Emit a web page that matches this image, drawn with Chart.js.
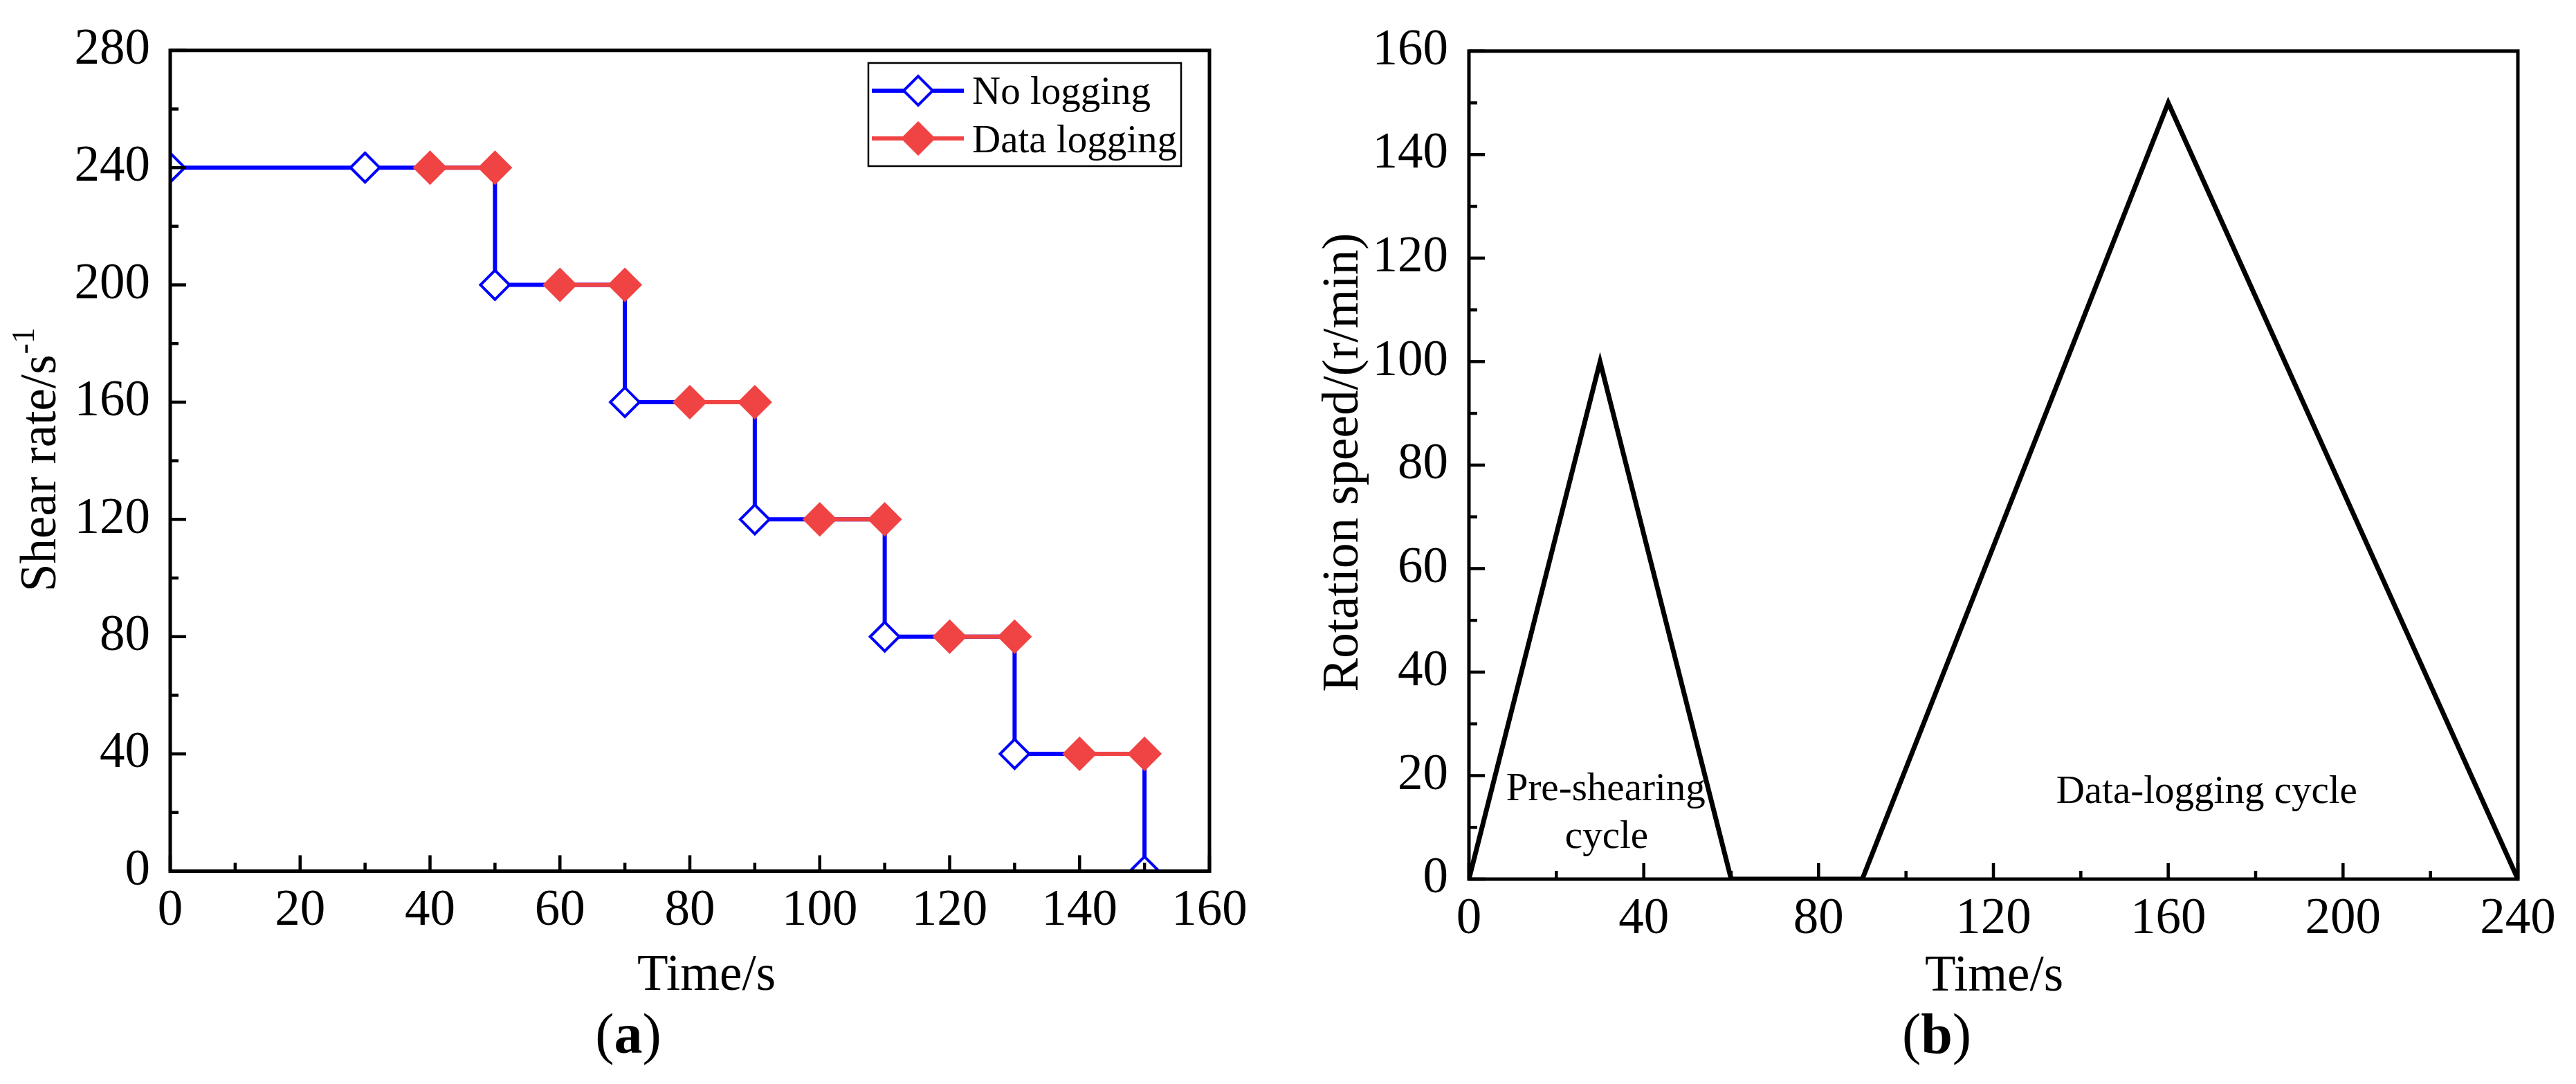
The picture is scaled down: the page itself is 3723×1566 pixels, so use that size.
<!DOCTYPE html>
<html><head><meta charset="utf-8">
<script src="https://cdn.jsdelivr.net/npm/chart.js@4.4.1/dist/chart.umd.min.js"></script>
<style>
html,body{margin:0;padding:0;background:#fff;overflow:hidden;width:3723px;height:1566px;}
#wa{position:absolute;left:0;top:0;width:1850px;height:1566px;}
#wb{position:absolute;left:1850px;top:0;width:1873px;height:1566px;}
</style></head><body>
<div id="wa"><canvas id="ca"></canvas></div>
<div id="wb"><canvas id="cb"></canvas></div>
<script>
// ---------- data (panel a) ----------
const timeNoLogging   = [0, 30, 50, 70, 90, 110, 130, 150];
const rateNoLogging   = [240, 240, 200, 160, 120, 80, 40, 0];
const timeDataLogging = [40, 50, 60, 70, 80, 90, 100, 110, 120, 130, 140, 150];
const rateDataLogging = [240, 240, 200, 200, 160, 160, 120, 120, 80, 80, 40, 40];
const xTicksA = [0, 20, 40, 60, 80, 100, 120, 140, 160];
const yTicksA = [0, 40, 80, 120, 160, 200, 240, 280];
// ---------- data (panel b) ----------
const timeCycle  = [0, 30, 60, 90, 160, 240];
const speedCycle = [0, 100, 0, 0, 150, 0];
const xTicksB = [0, 40, 80, 120, 160, 200, 240];
const yTicksB = [0, 20, 40, 60, 80, 100, 120, 140, 160];
const annText = ['Pre-shearing', 'cycle', 'Data-logging cycle'];
const annX = [31.3, 31.5, 168.8];
const annY = [15.2, 6.0, 14.7];

const BLUE = '#0000FF';
const RED = '#F04343';
const FF = "'Liberation Serif', 'Times New Roman', serif";
Chart.defaults.font.family = FF;
Chart.defaults.color = '#000';

function pts(xs, ys) { return xs.map((x, i) => ({x: x, y: ys[i]})); }

function drawInwardTicks(chart, xTicks, yTicks) {
  const {ctx, chartArea: ca, scales: {x, y}} = chart;
  ctx.save();
  ctx.strokeStyle = '#000';
  ctx.lineWidth = 4.5;
  ctx.lineCap = 'butt';
  const xs = xTicks[1] - xTicks[0], ys = yTicks[1] - yTicks[0];
  for (let i = 0; i < xTicks.length; i++) {
    const vals = [xTicks[i]];
    if (i < xTicks.length - 1) vals.push(xTicks[i] + xs / 2);
    vals.forEach((v, k) => {
      const px = x.getPixelForValue(v);
      const len = k === 0 ? 23 : 12;
      ctx.beginPath(); ctx.moveTo(px, ca.bottom); ctx.lineTo(px, ca.bottom - len); ctx.stroke();
    });
  }
  for (let i = 0; i < yTicks.length; i++) {
    const vals = [yTicks[i]];
    if (i < yTicks.length - 1) vals.push(yTicks[i] + ys / 2);
    vals.forEach((v, k) => {
      const py = y.getPixelForValue(v);
      const len = k === 0 ? 23 : 12;
      ctx.beginPath(); ctx.moveTo(ca.left, py); ctx.lineTo(ca.left + len, py); ctx.stroke();
    });
  }
  ctx.lineWidth = 5;
  ctx.strokeRect(ca.left, ca.top, ca.right - ca.left, ca.bottom - ca.top);
  ctx.restore();
}

function drawPanelLabel(ctx, letter, cx, baseline) {
  ctx.save();
  ctx.fillStyle = '#000';
  ctx.textBaseline = 'alphabetic';
  ctx.textAlign = 'left';
  const reg = '82px ' + FF, bold = 'bold 82px ' + FF;
  ctx.font = reg; const w1 = ctx.measureText('(').width, w3 = ctx.measureText(')').width;
  ctx.font = bold; const w2 = ctx.measureText(letter).width;
  let x0 = cx - (w1 + w2 + w3) / 2;
  ctx.font = reg; ctx.fillText('(', x0, baseline);
  ctx.font = bold; ctx.fillText(letter, x0 + w1, baseline);
  ctx.font = reg; ctx.fillText(')', x0 + w1 + w2, baseline);
  ctx.restore();
}

const panelAPlugin = {
  id: 'panelA',
  afterDraw(chart) {
    const ctx = chart.ctx;
    drawInwardTicks(chart, xTicksA, yTicksA);
    ctx.save();
    ctx.fillStyle = '#000';
    // y title with superscript
    ctx.save();
    ctx.translate(80, 855);
    ctx.rotate(-Math.PI / 2);
    ctx.textAlign = 'left'; ctx.textBaseline = 'alphabetic';
    ctx.font = '73px ' + FF;
    const main = 'Shear rate/s';
    ctx.fillText(main, 0, 0);
    const mw = ctx.measureText(main).width;
    ctx.font = '46px ' + FF;
    ctx.fillText('-1', mw + 1, -31);
    ctx.restore();
    // x title
    ctx.font = '73px ' + FF;
    ctx.textAlign = 'center'; ctx.textBaseline = 'alphabetic';
    ctx.fillText('Time/s', 1021, 1430);
    // legend
    ctx.lineWidth = 2.5; ctx.strokeStyle = '#000';
    ctx.strokeRect(1255, 91, 452, 149);
    const ds = chart.data.datasets;
    const rows = [{d: ds[0], y: 131, ty: 150}, {d: ds[1], y: 200, ty: 220}];
    rows.forEach(r => {
      ctx.strokeStyle = r.d.borderColor; ctx.lineWidth = r.d.borderWidth;
      ctx.beginPath(); ctx.moveTo(1260, r.y); ctx.lineTo(1393, r.y); ctx.stroke();
      ctx.fillStyle = r.d.pointBackgroundColor; ctx.strokeStyle = r.d.pointBorderColor;
      ctx.lineWidth = r.d.pointBorderWidth;
      Chart.helpers.drawPoint(ctx, {pointStyle: 'rectRot', radius: r.d.pointRadius, borderWidth: r.d.pointBorderWidth, rotation: 0}, 1327, r.y);
      ctx.fillStyle = '#000';
      ctx.font = '57px ' + FF; ctx.textAlign = 'left';
      ctx.fillText(r.d.label, 1405, r.ty);
    });
    ctx.restore();
    drawPanelLabel(ctx, 'a', 908, 1521);
  }
};

const panelBPlugin = {
  id: 'panelB',
  afterDraw(chart) {
    const ctx = chart.ctx;
    const {x, y} = chart.scales;
    drawInwardTicks(chart, xTicksB, yTicksB);
    ctx.save();
    ctx.fillStyle = '#000';
    ctx.save();
    ctx.translate(112, 668);
    ctx.rotate(-Math.PI / 2);
    ctx.textAlign = 'center'; ctx.textBaseline = 'alphabetic';
    ctx.font = '73px ' + FF;
    ctx.fillText('Rotation speed/(r/min)', 0, 0);
    ctx.restore();
    ctx.font = '73px ' + FF;
    ctx.textAlign = 'center'; ctx.textBaseline = 'alphabetic';
    ctx.fillText('Time/s', 1032, 1431);
    ctx.font = '57px ' + FF;
    annText.forEach((t, i) => {
      ctx.fillText(t, x.getPixelForValue(annX[i]), y.getPixelForValue(annY[i]));
    });
    ctx.restore();
    drawPanelLabel(ctx, 'b', 949, 1521);
  }
};

function scaleOpts(ticksArr, isX, fitSize, pad) {
  return {
    type: 'linear',
    min: ticksArr[0], max: ticksArr[ticksArr.length - 1],
    afterBuildTicks: s => { s.ticks = ticksArr.map(v => ({value: v})); },
    afterFit: s => { if (isX) s.height = fitSize; else s.width = fitSize; },
    grid: {display: false, drawTicks: false},
    border: {display: false},
    ticks: {padding: pad, color: '#000', font: {size: 73, family: FF}, autoSkip: false, maxRotation: 0, minRotation: 0}
  };
}

new Chart(document.getElementById('ca'), {
  type: 'line',
  data: {
    datasets: [
      {
        label: 'No logging',
        data: pts(timeNoLogging, rateNoLogging),
        stepped: true,
        borderColor: BLUE, borderWidth: 6,
        pointStyle: 'rectRot', pointRadius: 21, pointBorderWidth: 4,
        pointBackgroundColor: '#FFFFFF', pointBorderColor: BLUE,
        clip: 0, order: 1
      },
      {
        label: 'Data logging',
        data: pts(timeDataLogging, rateDataLogging),
        borderColor: RED, borderWidth: 6,
        segment: {borderColor: c => c.p0.parsed.y === c.p1.parsed.y ? RED : 'rgba(0,0,0,0)'},
        pointStyle: 'rectRot', pointRadius: 25, pointBorderWidth: 0,
        pointBackgroundColor: RED, pointBorderColor: RED,
        clip: 0, order: 0
      }
    ]
  },
  options: {
    responsive: true, maintainAspectRatio: false, animation: false, devicePixelRatio: 1,
    events: [],
    layout: {padding: {left: 0, top: 49, right: 102, bottom: 0}},
    plugins: {legend: {display: false}, tooltip: {enabled: false}},
    scales: {
      x: scaleOpts(xTicksA, true, 307.5, 15),
      y: scaleOpts(yTicksA, false, 246, 29)
    }
  },
  plugins: [panelAPlugin]
});

new Chart(document.getElementById('cb'), {
  type: 'line',
  data: {
    datasets: [{
      label: 'Rotation speed',
      data: pts(timeCycle, speedCycle),
      borderColor: '#000', borderWidth: 7, pointRadius: 0, tension: 0,
      borderJoinStyle: 'miter', clip: 0
    }]
  },
  options: {
    responsive: true, maintainAspectRatio: false, animation: false, devicePixelRatio: 1,
    events: [],
    layout: {padding: {left: 0, top: 49, right: 84, bottom: 0}},
    plugins: {legend: {display: false}, tooltip: {enabled: false}},
    scales: {
      x: scaleOpts(xTicksB, true, 296, 15),
      y: scaleOpts(yTicksB, false, 273, 30)
    }
  },
  plugins: [panelBPlugin]
});
</script>
</body></html>
